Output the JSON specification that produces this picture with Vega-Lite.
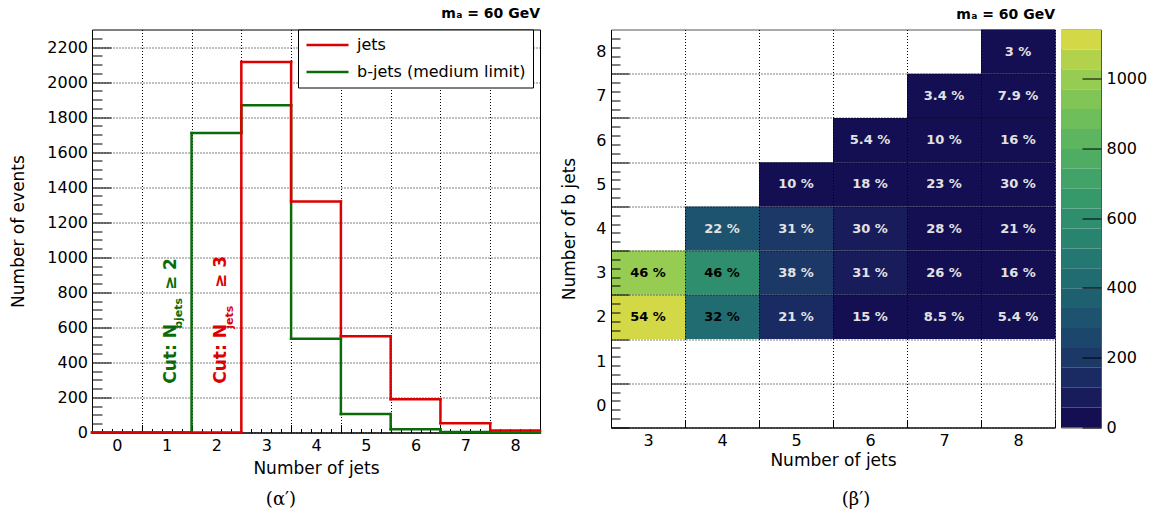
{
  "$schema": "https://vega.github.io/schema/vega-lite/v6.json",
  "padding": {"left": 9, "top": 6.5, "right": 0, "bottom": 0},
  "config": {
    "font": "DejaVu Sans",
    "view": {"stroke": "black", "strokeWidth": 1},
    "axis": {
      "domainColor": "black",
      "tickColor": "black",
      "tickWidth": 1,
      "grid": true,
      "gridColor": "black",
      "gridDash": [1, 2],
      "gridWidth": 1,
      "labelFont": "DejaVu Sans",
      "labelFontSize": 16,
      "labelColor": "black",
      "labelOverlap": false,
      "labelFlush": false,
      "titleFont": "DejaVu Sans",
      "titleFontSize": 17,
      "titleFontWeight": "normal",
      "titleColor": "black"
    },
    "title": {"font": "DejaVu Sans", "fontSize": 14, "fontWeight": "bold", "anchor": "end", "color": "black", "offset": 8, "frame": "group"}
  },
  "datasets": {
    "hist": [
      {"series": "b-jets (medium limit)", "jets": 0, "events": 0},
      {"series": "b-jets (medium limit)", "jets": 1, "events": 0},
      {"series": "b-jets (medium limit)", "jets": 2, "events": 1710},
      {"series": "b-jets (medium limit)", "jets": 3, "events": 1867},
      {"series": "b-jets (medium limit)", "jets": 4, "events": 535},
      {"series": "b-jets (medium limit)", "jets": 5, "events": 105},
      {"series": "b-jets (medium limit)", "jets": 6, "events": 18},
      {"series": "b-jets (medium limit)", "jets": 7, "events": 3},
      {"series": "b-jets (medium limit)", "jets": 8, "events": 0.4},
      {"series": "jets", "jets": 0, "events": 0},
      {"series": "jets", "jets": 1, "events": 0},
      {"series": "jets", "jets": 2, "events": 0},
      {"series": "jets", "jets": 3, "events": 2115},
      {"series": "jets", "jets": 4, "events": 1318},
      {"series": "jets", "jets": 5, "events": 550},
      {"series": "jets", "jets": 6, "events": 190},
      {"series": "jets", "jets": 7, "events": 53},
      {"series": "jets", "jets": 8, "events": 11}
    ],
    "cuts": [
      {"series": "b", "part": "main", "text": "Cut: N", "x": 1.09, "y": 278},
      {"series": "j", "part": "main", "text": "Cut: N", "x": 2.09, "y": 278},
      {"series": "b", "part": "sub", "text": "bjets", "x": 1.25, "y": 592},
      {"series": "j", "part": "sub", "text": "jets", "x": 2.27, "y": 592},
      {"series": "b", "part": "ge", "text": "≥ 2", "x": 1.09, "y": 813},
      {"series": "j", "part": "ge", "text": "≥ 3", "x": 2.09, "y": 825}
    ],
    "heat": [
      {"jets": 3, "bjets": 2, "events": 1138, "pct": 54},
      {"jets": 3, "bjets": 3, "events": 977, "pct": 46},
      {"jets": 4, "bjets": 2, "events": 422, "pct": 32},
      {"jets": 4, "bjets": 3, "events": 606, "pct": 46},
      {"jets": 4, "bjets": 4, "events": 290, "pct": 22},
      {"jets": 5, "bjets": 2, "events": 116, "pct": 21},
      {"jets": 5, "bjets": 3, "events": 209, "pct": 38},
      {"jets": 5, "bjets": 4, "events": 171, "pct": 31},
      {"jets": 5, "bjets": 5, "events": 55, "pct": 10},
      {"jets": 6, "bjets": 2, "events": 28.5, "pct": 15},
      {"jets": 6, "bjets": 3, "events": 59, "pct": 31},
      {"jets": 6, "bjets": 4, "events": 57, "pct": 30},
      {"jets": 6, "bjets": 5, "events": 34, "pct": 18},
      {"jets": 6, "bjets": 6, "events": 10.3, "pct": 5.4},
      {"jets": 7, "bjets": 2, "events": 4.4, "pct": 8.5},
      {"jets": 7, "bjets": 3, "events": 13.5, "pct": 26},
      {"jets": 7, "bjets": 4, "events": 14.6, "pct": 28},
      {"jets": 7, "bjets": 5, "events": 12, "pct": 23},
      {"jets": 7, "bjets": 6, "events": 5.2, "pct": 10},
      {"jets": 7, "bjets": 7, "events": 1.8, "pct": 3.4},
      {"jets": 8, "bjets": 2, "events": 0.8, "pct": 5.4},
      {"jets": 8, "bjets": 3, "events": 2.2, "pct": 16},
      {"jets": 8, "bjets": 4, "events": 2.9, "pct": 21},
      {"jets": 8, "bjets": 5, "events": 4.2, "pct": 30},
      {"jets": 8, "bjets": 6, "events": 2.2, "pct": 16},
      {"jets": 8, "bjets": 7, "events": 1.1, "pct": 7.9},
      {"jets": 8, "bjets": 8, "events": 0.4, "pct": 3}
    ],
    "palette": [
      {"lo": 0, "hi": 57}, {"lo": 57, "hi": 114}, {"lo": 114, "hi": 171}, {"lo": 171, "hi": 228},
      {"lo": 228, "hi": 285}, {"lo": 285, "hi": 342}, {"lo": 342, "hi": 399}, {"lo": 399, "hi": 456},
      {"lo": 456, "hi": 513}, {"lo": 513, "hi": 570}, {"lo": 570, "hi": 627}, {"lo": 627, "hi": 684},
      {"lo": 684, "hi": 741}, {"lo": 741, "hi": 798}, {"lo": 798, "hi": 855}, {"lo": 855, "hi": 912},
      {"lo": 912, "hi": 969}, {"lo": 969, "hi": 1026}, {"lo": 1026, "hi": 1083}, {"lo": 1083, "hi": 1140}
    ]
  },
  "spacing": 7,
  "vconcat": [
    {
      "spacing": 17,
      "hconcat": [
        {
          "width": 448,
          "height": 403,
          "title": {"text": "mₐ = 60 GeV"},
          "data": {"name": "hist"},
          "layer": [
            {
              "transform": [{"filter": "datum.series !== 'jets'"}],
              "mark": {"type": "rule", "strokeWidth": 2.5, "strokeCap": "square", "xOffset": -24.89, "x2Offset": 24.89},
              "encoding": {
                "x": {
                  "field": "jets", "type": "quantitative",
                  "scale": {"domain": [-0.5, 8.5], "nice": false, "zero": false},
                  "axis": {
                    "title": "Number of jets",
                    "values": [-0.5, -0.3, -0.1, 0, 0.1, 0.3, 0.5, 0.7, 0.9, 1, 1.1, 1.3, 1.5, 1.7, 1.9, 2, 2.1, 2.3, 2.5, 2.7, 2.9, 3, 3.1, 3.3, 3.5, 3.7, 3.9, 4, 4.1, 4.3, 4.5, 4.7, 4.9, 5, 5.1, 5.3, 5.5, 5.7, 5.9, 6, 6.1, 6.3, 6.5, 6.7, 6.9, 7, 7.1, 7.3, 7.5, 7.7, 7.9, 8, 8.1, 8.3, 8.5],
                    "tickCount": 200,
                    "tickMinStep": 0.01,
                    "format": "~g",
                    "labelOverlap": false,
                    "labelExpr": "abs(datum.value - round(datum.value)) < 0.05 ? datum.label : ''",
                    "tickSize": {"condition": {"test": "abs(datum.value - round(datum.value)) > 0.45", "value": -8}, "value": -4},
                    "tickOpacity": {"condition": {"test": "abs(datum.value - round(datum.value)) < 0.05", "value": 0}, "value": 1},
                    "gridOpacity": {"condition": {"test": "abs(datum.value - round(datum.value)) > 0.45", "value": 1}, "value": 0},
                    "labelPadding": 9,
                    "titlePadding": 7
                  }
                },
                "x2": {"field": "jets"},
                "y": {
                  "field": "events", "type": "quantitative",
                  "scale": {"domain": [0, 2300], "nice": false},
                  "axis": {
                    "title": "Number of events",
                    "values": [0, 50, 100, 150, 200, 250, 300, 350, 400, 450, 500, 550, 600, 650, 700, 750, 800, 850, 900, 950, 1000, 1050, 1100, 1150, 1200, 1250, 1300, 1350, 1400, 1450, 1500, 1550, 1600, 1650, 1700, 1750, 1800, 1850, 1900, 1950, 2000, 2050, 2100, 2150, 2200, 2250],
                    "tickCount": 200,
                    "tickMinStep": 0.01,
                    "format": "d",
                    "labelOverlap": false,
                    "labelExpr": "datum.value % 200 === 0 ? datum.label : ''",
                    "tickSize": {"condition": {"test": "datum.value % 200 === 0", "value": -19}, "value": -10},
                    "gridOpacity": {"condition": {"test": "datum.value % 200 === 0", "value": 1}, "value": 0},
                    "labelPadding": 23.5,
                    "titlePadding": 19
                  }
                },
                "color": {
                  "field": "series", "type": "nominal",
                  "scale": {"domain": ["jets", "b-jets (medium limit)"], "range": ["#dd0000", "#0b6b0b"]},
                  "legend": {
                    "orient": "none", "legendX": 206, "legendY": 0, "title": null,
                    "fillColor": "white", "strokeColor": "black", "padding": 7,
                    "symbolType": "M-3,0H3", "symbolSize": 196, "symbolStrokeWidth": 2.5,
                    "symbolOffset": 14, "labelOffset": 21, "labelFontSize": 16,
                    "labelFont": "DejaVu Sans", "labelColor": "black", "rowPadding": 10, "labelLimit": 400
                  }
                }
              }
            },
            {
              "transform": [
                {"filter": "datum.series !== 'jets'"},
                {"window": [{"op": "lead", "field": "events", "as": "next"}], "sort": [{"field": "jets"}]},
                {"filter": "datum.next != null"}
              ],
              "mark": {"type": "rule", "strokeWidth": 2.5, "strokeCap": "square", "xOffset": 24.89},
              "encoding": {
                "x": {"field": "jets", "type": "quantitative"},
                "y": {"field": "events", "type": "quantitative"},
                "y2": {"field": "next"},
                "color": {"field": "series", "type": "nominal"}
              }
            },
            {
              "transform": [{"filter": "datum.series === 'jets'"}],
              "mark": {"type": "rule", "strokeWidth": 2.5, "strokeCap": "square", "xOffset": -24.89, "x2Offset": 24.89},
              "encoding": {
                "x": {"field": "jets", "type": "quantitative"},
                "x2": {"field": "jets"},
                "y": {"field": "events", "type": "quantitative"},
                "color": {"field": "series", "type": "nominal"}
              }
            },
            {
              "transform": [
                {"filter": "datum.series === 'jets'"},
                {"window": [{"op": "lead", "field": "events", "as": "next"}], "sort": [{"field": "jets"}]},
                {"filter": "datum.next != null"}
              ],
              "mark": {"type": "rule", "strokeWidth": 2.5, "strokeCap": "square", "xOffset": 24.89},
              "encoding": {
                "x": {"field": "jets", "type": "quantitative"},
                "y": {"field": "events", "type": "quantitative"},
                "y2": {"field": "next"},
                "color": {"field": "series", "type": "nominal"}
              }
            },
            {
              "data": {"name": "cuts"},
              "transform": [{"filter": "datum.part === 'main'"}],
              "mark": {"type": "text", "angle": 270, "align": "left", "baseline": "middle", "font": "DejaVu Sans", "fontWeight": "bold", "fontSize": 17},
              "encoding": {
                "x": {"field": "x", "type": "quantitative"},
                "y": {"field": "y", "type": "quantitative"},
                "text": {"field": "text"},
                "color": {"condition": {"test": "datum.series === 'b'", "value": "#0b6b0b"}, "value": "#dd0000"}
              }
            },
            {
              "data": {"name": "cuts"},
              "transform": [{"filter": "datum.part === 'sub'"}],
              "mark": {"type": "text", "angle": 270, "align": "left", "baseline": "middle", "font": "DejaVu Sans", "fontWeight": "bold", "fontSize": 11},
              "encoding": {
                "x": {"field": "x", "type": "quantitative"},
                "y": {"field": "y", "type": "quantitative"},
                "text": {"field": "text"},
                "color": {"condition": {"test": "datum.series === 'b'", "value": "#0b6b0b"}, "value": "#dd0000"}
              }
            },
            {
              "data": {"name": "cuts"},
              "transform": [{"filter": "datum.part === 'ge'"}],
              "mark": {"type": "text", "angle": 270, "align": "left", "baseline": "middle", "font": "DejaVu Sans", "fontWeight": "bold", "fontSize": 17},
              "encoding": {
                "x": {"field": "x", "type": "quantitative"},
                "y": {"field": "y", "type": "quantitative"},
                "text": {"field": "text"},
                "color": {"condition": {"test": "datum.series === 'b'", "value": "#0b6b0b"}, "value": "#dd0000"}
              }
            }
          ]
        },
        {
          "spacing": 4,
          "hconcat": [
            {
              "width": 444,
              "height": 398,
              "title": {"text": "mₐ = 60 GeV"},
              "view": {"stroke": "#555"},
              "data": {"name": "heat"},
              "transform": [{"calculate": "format(datum.pct, '.2~r') + ' %'", "as": "label"}],
              "encoding": {
                "x": {
                  "field": "jets", "type": "quantitative",
                  "scale": {"domain": [2.5, 8.5], "nice": false, "zero": false},
                  "axis": {
                    "title": "Number of jets",
                    "values": [2.5, 3, 3.5, 4, 4.5, 5, 5.5, 6, 6.5, 7, 7.5, 8, 8.5],
                    "tickCount": 200,
                    "tickMinStep": 0.01,
                    "format": "~g",
                    "labelOverlap": false,
                    "labelExpr": "abs(datum.value - round(datum.value)) < 0.05 ? datum.label : ''",
                    "tickSize": -7,
                    "tickOpacity": {"condition": {"test": "abs(datum.value - round(datum.value)) < 0.05", "value": 0}, "value": 1},
                    "gridOpacity": {"condition": {"test": "abs(datum.value - round(datum.value)) > 0.45", "value": 1}, "value": 0},
                    "labelPadding": 12,
                    "titlePadding": 4,
                    "zindex": 1
                  }
                },
                "y": {
                  "field": "bjets", "type": "quantitative",
                  "scale": {"domain": [-0.5, 8.5], "nice": false, "zero": false},
                  "axis": {
                    "title": "Number of b jets",
                    "values": [-0.5, -0.3, -0.1, 0, 0.1, 0.3, 0.5, 0.7, 0.9, 1, 1.1, 1.3, 1.5, 1.7, 1.9, 2, 2.1, 2.3, 2.5, 2.7, 2.9, 3, 3.1, 3.3, 3.5, 3.7, 3.9, 4, 4.1, 4.3, 4.5, 4.7, 4.9, 5, 5.1, 5.3, 5.5, 5.7, 5.9, 6, 6.1, 6.3, 6.5, 6.7, 6.9, 7, 7.1, 7.3, 7.5, 7.7, 7.9, 8, 8.1, 8.3],
                    "tickCount": 200,
                    "tickMinStep": 0.01,
                    "format": "~g",
                    "labelOverlap": false,
                    "labelExpr": "abs(datum.value - round(datum.value)) < 0.05 ? datum.label : ''",
                    "tickSize": {"condition": {"test": "abs(datum.value - round(datum.value)) > 0.45", "value": -18}, "value": -9},
                    "tickOpacity": {"condition": {"test": "abs(datum.value - round(datum.value)) < 0.05", "value": 0}, "value": 1},
                    "gridOpacity": {"condition": {"test": "abs(datum.value - round(datum.value)) > 0.45", "value": 1}, "value": 0},
                    "labelPadding": 14,
                    "titlePadding": 17,
                    "zindex": 1
                  }
                }
              },
              "layer": [
                {
                  "mark": {"type": "rect", "width": 74, "height": 44.222},
                  "encoding": {
                    "color": {
                      "field": "events", "type": "quantitative",
                      "scale": {"type": "quantize", "domain": [0, 1140], "range": ["#140f52", "#191c5b", "#1a2a62", "#1b3867", "#1c466c", "#1d536f", "#1f6070", "#216c71", "#247871", "#28836f", "#2e8e6d", "#36996a", "#41a367", "#4ead63", "#5db65f", "#6ebe5b", "#82c557", "#97cc52", "#b3d24c", "#d3d846"]},
                      "legend": null
                    }
                  }
                },
                {
                  "mark": {"type": "text", "font": "DejaVu Sans", "fontWeight": "bold", "fontSize": 13},
                  "encoding": {
                    "text": {"field": "label"},
                    "color": {"condition": {"test": "datum.events > 350", "value": "black"}, "value": "#e2e2e2"}
                  }
                }
              ]
            },
            {
              "width": 40,
              "height": 398,
              "title": {"text": " "},
              "view": {"stroke": "#555"},
              "data": {"name": "palette"},
              "mark": "rect",
              "encoding": {
                "y": {
                  "field": "lo", "type": "quantitative",
                  "scale": {"domain": [0, 1140], "nice": false},
                  "axis": {
                    "orient": "right", "title": null, "values": [0, 200, 400, 600, 800, 1000], "format": "d",
                    "tickCount": 50,
                    "tickMinStep": 0.01,
                    "labelOverlap": false,
                    "tickSize": -19, "labelPadding": 24, "domain": false, "grid": false, "zindex": 1
                  }
                },
                "y2": {"field": "hi"},
                "color": {
                  "field": "lo", "type": "quantitative",
                  "scale": {"type": "quantize", "domain": [0, 1140], "range": ["#140f52", "#191c5b", "#1a2a62", "#1b3867", "#1c466c", "#1d536f", "#1f6070", "#216c71", "#247871", "#28836f", "#2e8e6d", "#36996a", "#41a367", "#4ead63", "#5db65f", "#6ebe5b", "#82c557", "#97cc52", "#b3d24c", "#d3d846"]},
                  "legend": null
                }
              }
            }
          ]
        }
      ]
    },
    {
      "spacing": 186,
      "hconcat": [
        {
          "width": 378,
          "height": 30,
          "view": {"stroke": null},
          "data": {"values": [{"caption": "(α′)"}]},
          "mark": {"type": "text", "font": "DejaVu Serif", "fontSize": 18, "color": "black"},
          "encoding": {"text": {"field": "caption"}}
        },
        {
          "width": 400,
          "height": 30,
          "view": {"stroke": null},
          "data": {"values": [{"caption": "(β′)"}]},
          "mark": {"type": "text", "font": "DejaVu Serif", "fontSize": 18, "color": "black"},
          "encoding": {"text": {"field": "caption"}}
        }
      ]
    }
  ]
}
